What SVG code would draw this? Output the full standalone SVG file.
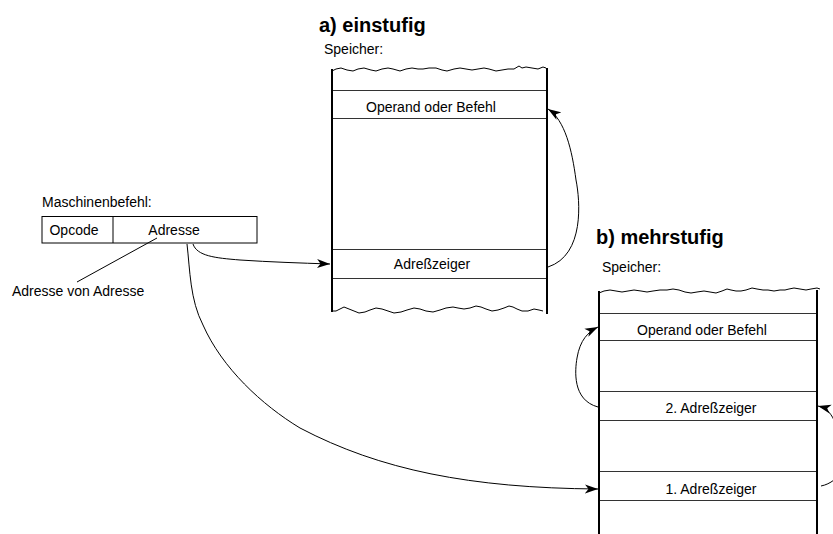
<svg xmlns="http://www.w3.org/2000/svg" width="833" height="534" viewBox="0 0 833 534">
  <style>
    text { font-family: "Liberation Sans", Arial, sans-serif; fill: #000; }
    .title { font-size: 20px; font-weight: bold; }
    .lbl { font-size: 14px; }
    .cell { font-size: 14px; text-anchor: middle; }
    .wall { stroke: #000; stroke-width: 2; fill: none; }
    .row { stroke: #333; stroke-width: 1; fill: none; }
    .wave { stroke: #000; stroke-width: 1; fill: none; stroke-linejoin: round; }
    .conn { stroke: #000; stroke-width: 1; fill: none; }
    .box { stroke: #000; stroke-width: 1; fill: #fff; }
  </style>
  <defs>
    <marker id="arr" markerWidth="14" markerHeight="10" refX="13" refY="5" orient="auto" markerUnits="userSpaceOnUse">
      <path d="M0,0.5 L13,5 L0,9.5 L3.5,5 Z" fill="#000"/>
    </marker>
  </defs>

  <!-- Instruction word -->
  <g id="maschinenbefehl">
    <text class="lbl" x="42" y="207">Maschinenbefehl:</text>
    <rect class="box" x="42" y="216.5" width="215" height="26.5"/>
    <line x1="113" y1="216.5" x2="113" y2="243" stroke="#000" stroke-width="1"/>
    <text class="cell" x="74" y="235">Opcode</text>
    <text class="cell" x="174" y="235">Adresse</text>
  </g>

  <g id="note">
    <line class="conn" x1="157" y1="238" x2="77" y2="282"/>
    <text class="lbl" x="12" y="296">Adresse von Adresse</text>
  </g>

  <!-- a) single-level memory -->
  <g id="speicher-a">
    <text class="title" x="319" y="32">a) einstufig</text>
    <text class="lbl" x="324" y="54">Speicher:</text>
    <path class="wave" d="M332,71 l4,-2 l5,-1 l6,2 l6,1 l5,-2 l6,-1 l7,2 l5,1 l6,-2 l6,-1 l5,1 l7,2 l6,-2 l6,-1 l6,1 l5,0 l6,-1 l7,0 l6,2 l5,1 l7,-2 l6,-1 l6,1 l6,1 l6,-1 l6,-1 l5,1 l7,2 l6,-1 l6,-1 l6,0 l5,-3 l3,2 l4,-1 l6,1 l6,1 l5,-2 l3,1"/>
    <line class="row" x1="332" y1="90.5" x2="547" y2="90.5"/>
    <line class="row" x1="332" y1="118.5" x2="547" y2="118.5"/>
    <text class="cell" x="431" y="112">Operand oder Befehl</text>
    <line class="row" x1="332" y1="249.5" x2="547" y2="249.5"/>
    <line class="row" x1="332" y1="278.5" x2="547" y2="278.5"/>
    <text class="cell" x="432" y="269">Adreßzeiger</text>
    <path class="wave" d="M332,311 l4,0 l4,-2 l4,-2 l5,2 l5,2 l5,2 l6,-1 l5,-2 l6,-2 l6,1 l6,2 l6,2 l7,-1 l6,-2 l7,-2 l6,1 l6,2 l7,1 l7,-2 l6,-2 l7,-1 l5,1 l6,1 l6,-1 l6,-2 l5,1 l5,2 l6,2 l6,-1 l6,-2 l5,-2 l4,1 l4,2 l5,2 l6,0 l6,-2 l5,1 l4,1"/>
    <line class="wall" x1="332" y1="69" x2="332" y2="312"/>
    <line class="wall" x1="547" y1="68" x2="547" y2="314"/>
  </g>

  <!-- b) multi-level memory -->
  <g id="speicher-b">
    <text class="title" x="596" y="244">b) mehrstufig</text>
    <text class="lbl" x="602" y="272">Speicher:</text>
    <path class="wave" d="M599,293 l5,-2 l6,-1 l6,1 l6,1 l6,-1 l6,-1 l7,1 l6,1 l6,-1 l7,-1 l7,0 l6,-1 l6,1 l6,2 l6,1 l6,-1 l7,-1 l6,1 l6,1 l6,-2 l5,-2 l4,1 l5,1 l5,0 l5,-1 l6,-2 l5,1 l6,1 l5,0 l6,1 l6,-1 l5,0 l4,-1 l5,-1 l6,1 l6,1 l5,-1 l6,-1 l3,1"/>
    <line class="row" x1="599" y1="313.5" x2="817" y2="313.5"/>
    <line class="row" x1="599" y1="340.5" x2="817" y2="340.5"/>
    <text class="cell" x="702" y="335">Operand oder Befehl</text>
    <line class="row" x1="599" y1="391.5" x2="817" y2="391.5"/>
    <line class="row" x1="599" y1="420.5" x2="817" y2="420.5"/>
    <text class="cell" x="711" y="413">2. Adreßzeiger</text>
    <line class="row" x1="599" y1="471.5" x2="817" y2="471.5"/>
    <line class="row" x1="599" y1="500.5" x2="817" y2="500.5"/>
    <text class="cell" x="711" y="494">1. Adreßzeiger</text>
    <line class="wall" x1="599" y1="291" x2="599" y2="534"/>
    <line class="wall" x1="817" y1="290" x2="817" y2="534"/>
  </g>

  <!-- Connectors -->
  <g id="connectors">
    <path class="conn" d="M193,244 C197,256 215,258 240,260 C270,262 300,263 330,264" marker-end="url(#arr)"/>
    <path class="conn" d="M187,244 C190,270 190,300 203,325 C222,368 262,405 300,428 C380,470 470,488 598,489" marker-end="url(#arr)"/>
    <path class="conn" d="M548,267 C585,255 580,200 576,180 C572,150 565,120 548,109" marker-end="url(#arr)"/>
    <path class="conn" d="M598,407 C572,400 575,370 577,358 C580,340 588,332 598,327" marker-end="url(#arr)"/>
    <path class="conn" d="M834,420 C830,412 826,408 818,406" marker-end="url(#arr)"/>
    <path class="conn" d="M821,486 C826,485 830,483 834,480"/>
  </g>
</svg>
